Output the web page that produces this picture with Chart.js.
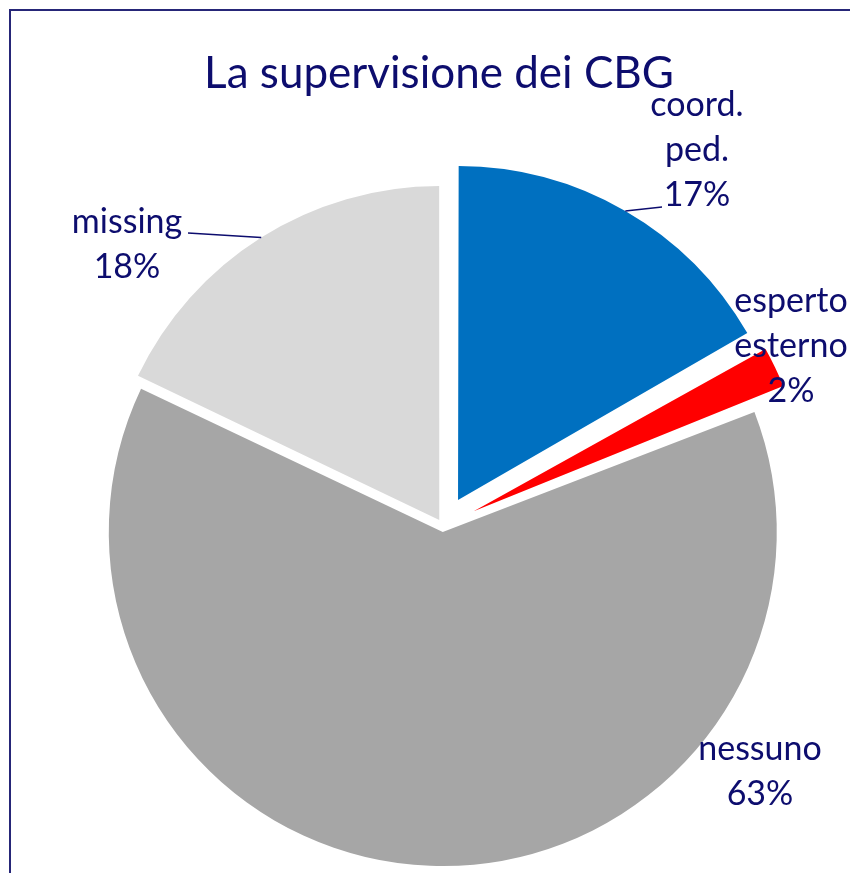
<!DOCTYPE html>
<html lang="it">

<head>
  <meta charset="UTF-8">
  <title>La supervisione dei CBG</title>
  <style>
    html, body { margin: 0; padding: 0; background: #fff; overflow: hidden; width: 850px; height: 873px; }
    .frame { position: absolute; left: 9px; top: 9px; width: 900px; height: 900px; border: 2px solid #262678; box-sizing: border-box; }
    .chart-wrap { position: absolute; left: 0; top: 0; width: 886px; height: 1052px; }
  </style>
</head>

<body>
  <div class="frame"></div>
  <div class="chart-wrap">
    <canvas id="pieChart"></canvas>
  </div>

  <script src="https://cdn.jsdelivr.net/npm/chart.js"></script>
  <script>
    // data
    const categories = ['coord. ped.', 'esperto esterno', 'nessuno', 'missing'];
    const shares = [16.7, 2.4, 63.0, 17.9];
    const colors = ['#0070C0', '#FF0000', '#A6A6A6', '#D9D9D9'];
    // explosion of each slice, in px
    const explode = [30, 34, 6, 7];

    const textColor = '#0d0d6e';
    const fontFamily = 'Lato, "Noto Sans", sans-serif';

    // label placement: centre x, first baseline, optional leader end near the text
    const labelPos = [
      { x: 697, y: 116, lead: [662, 207] },
      { x: 791, y: 312 },
      { x: 760, y: 760 },
      { x: 127, y: 233, lead: [188, 233] }
    ];

    // Chart.js v4 shifts arcs by offset/4 and grows thin slices; undo the growth
    const keepRadius = {
      id: 'keepRadius',
      beforeDatasetsDraw(chart) {
        const meta = chart.getDatasetMeta(0);
        const base = meta.controller.outerRadius;
        meta.data.forEach((arc, i) => {
          const circ = arc.endAngle - arc.startAngle;
          const fix = 1 - Math.sin(Math.min(Math.PI, circ));
          arc.outerRadius = base - explode[i] * fix;
        });
      }
    };

    const labels = {
      id: 'labels',
      afterDraw(chart) {
        const ctx = chart.ctx;
        const meta = chart.getDatasetMeta(0);
        const total = shares.reduce((a, b) => a + b, 0);
        ctx.save();
        ctx.fillStyle = textColor;
        ctx.strokeStyle = textColor;
        ctx.textAlign = 'center';
        ctx.textBaseline = 'alphabetic';

        // title
        ctx.font = '44px ' + fontFamily;
        ctx.fillText('La supervisione dei CBG', 439, 88);

        ctx.font = '34px ' + fontFamily;
        meta.data.forEach((arc, i) => {
          const pos = labelPos[i];
          const lines = categories[i].split(' ');
          lines.push(Math.round(shares[i] / total * 100) + '%');
          lines.forEach((t, k) => ctx.fillText(t, pos.x, pos.y + k * 45));

          if (pos.lead) {
            const mid = (arc.startAngle + arc.endAngle) / 2;
            const r = meta.controller.outerRadius;
            const px = arc.x + Math.cos(mid) * (explode[i] + r);
            const py = arc.y + Math.sin(mid) * (explode[i] + r);
            ctx.lineWidth = 1.5;
            ctx.beginPath();
            ctx.moveTo(px, py);
            ctx.lineTo(pos.lead[0], pos.lead[1]);
            ctx.stroke();
          }
        });
        ctx.restore();
      }
    };

    const ctx = document.getElementById('pieChart').getContext('2d');
    const pieChart = new Chart(ctx, {
      type: 'pie',
      data: {
        labels: categories,
        datasets: [{
          data: shares,
          backgroundColor: colors,
          borderWidth: 0,
          offset: explode.map(v => v * 4),
          radius: 334
        }]
      },
      options: {
        responsive: true,
        maintainAspectRatio: false,
        animation: false,
        layout: { padding: 0 },
        plugins: {
          legend: { display: false },
          tooltip: { enabled: false }
        }
      },
      plugins: [keepRadius, labels]
    });
  </script>
</body>

</html>
